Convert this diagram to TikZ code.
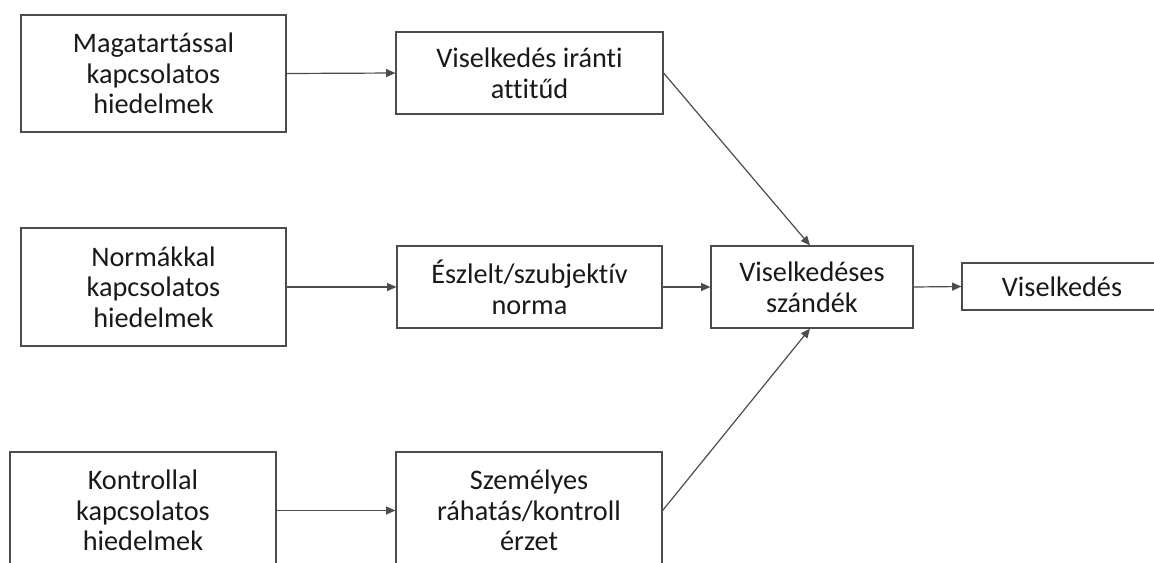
\documentclass[tikz,border=0pt]{standalone}
\usepackage{fontspec}
\setmainfont{Carlito}[Ligatures=NoCommon]
\usetikzlibrary{arrows.meta}
\newlength{\pxu}
\setlength{\pxu}{0.75pt}
\begin{document}
\begin{tikzpicture}[x=0.75pt,y=-0.75pt,
  box/.style={draw=black!70, line width=0.9pt, fill=white, inner sep=0pt, align=center,
    font=\fontsize{21.2}{23}\selectfont, text=black!90},
  conn/.style={draw=black!70, line width=0.9pt, -{Triangle[length=7pt,width=6pt]}}]
\useasboundingbox (0,0) rectangle (1154,562);
\clip (0,0) rectangle (1154,562);
\fill[white] (0,0) rectangle (1154,562);
% left column
\node[box, minimum width=265\pxu, minimum height=117\pxu] (a1) at (153.5,73.5) {Magatartással\\kapcsolatos\\hiedelmek};
\node[box, minimum width=265\pxu, minimum height=118\pxu] (a2) at (153.5,287) {Normákkal\\kapcsolatos\\hiedelmek};
\node[box, minimum width=266\pxu, minimum height=117\pxu] (a3) at (143,510.5) {Kontrollal\\kapcsolatos\\hiedelmek};
% middle column
\node[box, minimum width=267\pxu, minimum height=82\pxu] (b1) at (529.5,73) {Viselkedés iránti\\attitűd};
\node[box, minimum width=265\pxu, minimum height=82\pxu] (b2) at (529.5,287) {Észlelt/szubjektív\\norma};
\node[box, minimum width=266\pxu, minimum height=117\pxu] (b3) at (529,510.5) {Személyes\\ráhatás/kontroll\\érzet};
% right
\node[box, minimum width=202\pxu, minimum height=82\pxu] (c) at (812,287) {Viselkedéses\\szándék};
\node[box, minimum width=200\pxu, minimum height=47\pxu] (d) at (1062,286.5) {Viselkedés};
% connectors
\draw[conn] (a1.east) -- (b1.west);
\draw[conn] (a2.east) -- (b2.west);
\draw[conn] (a3.east) -- (b3.west);
\draw[conn] (b1.east) -- ([xshift=-1.5pt]c.north);
\draw[conn] (b2.east) -- (c.west);
\draw[conn] (b3.east) -- ([xshift=-1.5pt]c.south);
\draw[conn] (c.east) -- (d.west);
\end{tikzpicture}
\end{document}
